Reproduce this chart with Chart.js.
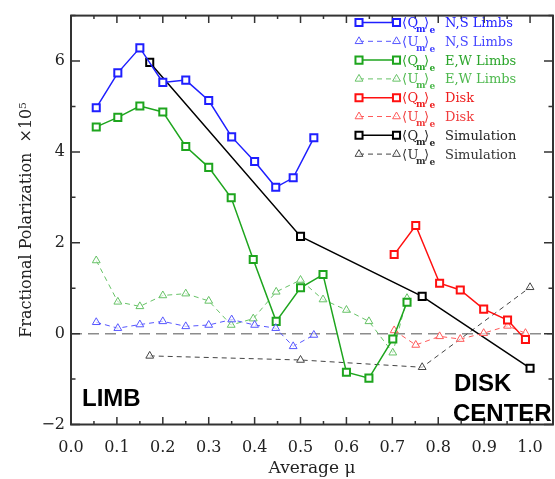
<!DOCTYPE html>
<html>
<head>
<meta charset="utf-8">
<script src="https://cdn.jsdelivr.net/npm/chart.js@4.4.0/dist/chart.umd.min.js"></script>
<style>
  html, body { margin: 0; padding: 0; background: #fff; overflow: hidden; }
</style>
</head>
<body>
<canvas id="chart" width="560" height="479"></canvas>
<script>
// values (polarization in units of 1e-5)
const muNS  = [0.055, 0.102, 0.15, 0.2, 0.25, 0.3, 0.35, 0.4, 0.446, 0.484, 0.529];
const qNS   = [4.97, 5.74, 6.29, 5.53, 5.58, 5.13, 4.33, 3.79, 3.22, 3.43, 4.31];
const uNS   = [0.25, 0.12, 0.20, 0.27, 0.16, 0.19, 0.31, 0.19, 0.12, -0.28, -0.03];

const muEW  = [0.055, 0.102, 0.15, 0.2, 0.25, 0.3, 0.349, 0.397, 0.447, 0.5, 0.549, 0.6, 0.649, 0.701, 0.732];
const qEW   = [4.55, 4.76, 5.01, 4.88, 4.12, 3.66, 2.99, 1.63, 0.27, 1.01, 1.30, -0.85, -0.98, -0.12, 0.69];
const uEW   = [1.61, 0.70, 0.60, 0.84, 0.88, 0.72, 0.19, 0.33, 0.92, 1.18, 0.75, 0.52, 0.27, -0.42, 0.78];

const muDisk = [0.704, 0.751, 0.803, 0.848, 0.899, 0.951, 0.99];
const qDisk  = [1.74, 2.38, 1.11, 0.96, 0.54, 0.30, -0.13];
const uDisk  = [0.07, -0.25, -0.06, -0.12, 0.01, 0.17, 0.01];

const muSim = [0.1715, 0.5, 0.765, 1.0];
const qSim  = [5.97, 2.14, 0.82, -0.76];
const uSim  = [-0.49, -0.58, -0.74, 1.02];

const xTicks = [0, 0.1, 0.2, 0.3, 0.4, 0.5, 0.6, 0.7, 0.8, 0.9, 1.0];
const yTicks = [-2, 0, 2, 4, 6];

const pts = (xs, ys) => xs.map((x, i) => ({ x: x, y: ys[i] }));

function qSet(name, xs, ys, color, textColor) {
  return {
    label: name, sym: 'Q', textColor: textColor,
    data: pts(xs, ys),
    borderColor: color, borderWidth: 1.5,
    pointStyle: 'rect', pointRadius: 5, pointBorderWidth: 2,
    pointBorderColor: color, pointBackgroundColor: '#fff',
    showLine: true, tension: 0, fill: false
  };
}
function uSet(name, xs, ys, color, textColor) {
  return {
    label: name, sym: 'U', textColor: textColor,
    data: pts(xs, ys),
    borderColor: color, borderWidth: 1, borderDash: [5, 4],
    pointStyle: 'triangle', pointRadius: 4.5, pointBorderWidth: 1,
    pointBorderColor: color, pointBackgroundColor: 'rgba(255,255,255,0.6)',
    showLine: true, tension: 0, fill: false
  };
}

const datasets = [
  qSet('N,S Limbs', muNS, qNS, '#1f1fff', '#2323ff'),
  uSet('N,S Limbs', muNS, uNS, '#5656ff', '#4646ff'),
  qSet('E,W Limbs', muEW, qEW, '#1ea51e', '#2aa52a'),
  uSet('E,W Limbs', muEW, uEW, '#66c266', '#4db84d'),
  qSet('Disk', muDisk, qDisk, '#ff1010', '#ee1c1c'),
  uSet('Disk', muDisk, uDisk, '#ff5a5a', '#f03c3c'),
  qSet('Simulation', muSim, qSim, '#000000', '#222222'),
  uSet('Simulation', muSim, uSim, '#444444', '#333333')
];

const serif = 'DejaVu Serif';

const framePlugin = {
  id: 'frame',
  beforeDatasetsDraw(chart) {
    const { ctx, chartArea: a, scales: { x, y } } = chart;
    ctx.save();
    // zero reference line
    ctx.strokeStyle = '#8c8c8c';
    ctx.lineWidth = 1.5;
    ctx.setLineDash([11, 6]);
    ctx.beginPath();
    ctx.moveTo(a.left, y.getPixelForValue(0));
    ctx.lineTo(a.right, y.getPixelForValue(0));
    ctx.stroke();
    ctx.setLineDash([]);
    // box
    ctx.strokeStyle = '#333';
    ctx.lineWidth = 2;
    ctx.strokeRect(a.left, a.top, a.right - a.left, a.bottom - a.top);
    // inward ticks
    ctx.lineWidth = 1.5;
    ctx.beginPath();
    for (let v = 0; v <= 1.0001; v += 0.05) {
      const px = x.getPixelForValue(v);
      const major = Math.abs(v * 10 - Math.round(v * 10)) < 1e-6;
      const len = major ? 7.5 : 3.5;
      ctx.moveTo(px, a.bottom); ctx.lineTo(px, a.bottom - len);
      ctx.moveTo(px, a.top); ctx.lineTo(px, a.top + len);
    }
    for (let v = -2; v <= 7; v += 1) {
      const py = y.getPixelForValue(v);
      const len = v % 2 === 0 ? 9 : 4.5;
      ctx.moveTo(a.left, py); ctx.lineTo(a.left + len, py);
      ctx.moveTo(a.right, py); ctx.lineTo(a.right - len, py);
    }
    ctx.stroke();
    ctx.restore();
  },
  afterDraw(chart) {
    const { ctx } = chart;
    ctx.save();
    // region labels
    ctx.fillStyle = '#000';
    ctx.font = 'bold 24px "Liberation Sans", Arial, sans-serif';
    ctx.textBaseline = 'alphabetic';
    ctx.textAlign = 'left';
    ctx.fillText('LIMB', 82, 405.5);
    ctx.fillText('DISK', 454, 390.5);
    ctx.fillText('CENTER', 453, 420.5);

    // legend
    const x0 = 359, x1 = 396.5;
    chart.data.datasets.forEach((ds, i) => {
      const ly = 22.5 + i * 18.8;
      ctx.strokeStyle = ds.borderColor;
      ctx.lineWidth = ds.borderWidth;
      ctx.setLineDash(ds.borderDash || []);
      ctx.beginPath();
      ctx.moveTo(x0, ly); ctx.lineTo(x1, ly);
      ctx.stroke();
      ctx.setLineDash([]);
      ctx.fillStyle = ds.pointBackgroundColor;
      ctx.strokeStyle = ds.pointBorderColor;
      ctx.lineWidth = ds.pointBorderWidth;
      const opts = { pointStyle: ds.pointStyle, radius: ds.pointRadius, borderWidth: ds.pointBorderWidth, rotation: 0 };
      Chart.helpers.drawPoint(ctx, opts, x0, ly);
      Chart.helpers.drawPoint(ctx, opts, x1, ly);

      ctx.fillStyle = ds.textColor;
      ctx.textAlign = 'left';
      ctx.font = '13px ' + serif;
      ctx.fillText('\u27E8', 402, ly + 4.5);
      ctx.fillText(ds.sym, 407.5, ly + 4.5);
      ctx.fillText('\u27E9', 424, ly + 4.5);
      ctx.font = 'bold 9px ' + serif;
      ctx.fillText('m', 416, ly + 9.5);
      ctx.fillText('e', 429.5, ly + 10.5);
      ctx.font = '13px ' + serif;
      ctx.fillText(ds.label, 445, ly + 4.5);
    });
    ctx.restore();
  }
};

new Chart(document.getElementById('chart').getContext('2d'), {
  type: 'line',
  data: { datasets: datasets },
  options: {
    responsive: false,
    animation: false,
    layout: { padding: { top: 4, right: 1, left: 0, bottom: 0 } },
    plugins: { legend: { display: false }, tooltip: { enabled: false } },
    scales: {
      x: {
        type: 'linear', min: 0, max: 1.05,
        grid: { display: false, drawTicks: false },
        border: { display: false },
        afterBuildTicks: s => { s.ticks = xTicks.map(v => ({ value: v })); },
        afterFit: s => { s.height = 54.5; },
        ticks: {
          padding: 14, color: '#222', maxRotation: 0, autoSkip: false,
          font: { family: serif, size: 16 },
          callback: v => Number(v).toFixed(1)
        },
        title: {
          display: true, text: 'Average \u03BC', color: '#222',
          font: { family: serif, size: 17 },
          padding: { top: 0, bottom: 0 }
        }
      },
      y: {
        type: 'linear', min: -2, max: 7,
        grid: { display: false, drawTicks: false },
        border: { display: false },
        afterBuildTicks: s => { s.ticks = yTicks.map(v => ({ value: v })); },
        afterFit: s => { s.width = 71; },
        ticks: {
          padding: 6, color: '#222',
          font: { family: serif, size: 16 },
          callback: v => (v < 0 ? '\u2212' + Math.abs(v) : String(v))
        },
        title: {
          display: true, text: 'Fractional Polarization  \u00D710\u2075', color: '#222',
          font: { family: serif, size: 16 },
          padding: { top: 17, bottom: 0 }
        }
      }
    }
  },
  plugins: [framePlugin]
});
</script>
</body>
</html>
